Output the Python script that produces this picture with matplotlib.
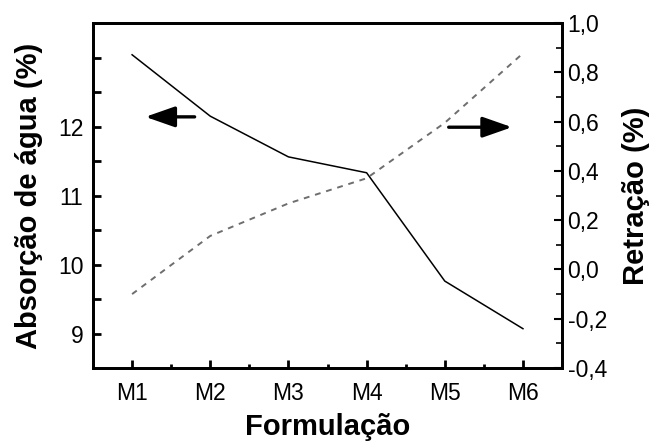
import matplotlib
matplotlib.use("Agg")
import matplotlib.pyplot as plt
from matplotlib.ticker import MultipleLocator, FixedLocator, FuncFormatter

plt.rcParams['font.family'] = ['Liberation Sans', 'DejaVu Sans']

formulacoes = ["M1", "M2", "M3", "M4", "M5", "M6"]
absorcao = [13.04, 12.15, 11.56, 11.33, 9.76, 9.07]
retracao = [-0.10, 0.136, 0.268, 0.37, 0.595, 0.877]

fig = plt.figure(figsize=(6.49, 4.41), dpi=100)
ax = fig.add_axes([0.1433, 0.1655, 0.866 - 0.1433, 0.9478 - 0.1655])
ax2 = ax.twinx()

x = list(range(len(formulacoes)))
ax.plot(x, absorcao, color="black", lw=1.1)
ax2.plot(x, retracao, color="#6e6e6e", lw=1.4, dashes=(3, 3))

ax.set_xlim(-0.5, 5.5)
ax.set_ylim(8.5, 13.5)
ax2.set_ylim(-0.4, 1.0)

ax.set_xticks(x)
ax.set_xticklabels(formulacoes)
ax.xaxis.set_minor_locator(FixedLocator([i + 0.5 for i in x[:-1]]))

ax.yaxis.set_major_locator(FixedLocator([9, 10, 11, 12, 9.5, 10.5, 11.5, 12.5, 13]))
ax.yaxis.set_major_formatter(FuncFormatter(lambda v, p: "%d" % v if v == int(v) and v <= 12 else ""))

ax2.yaxis.set_major_locator(MultipleLocator(0.2))
ax2.yaxis.set_minor_locator(MultipleLocator(0.1))
ax2.yaxis.set_major_formatter(FuncFormatter(lambda v, p: ("%.1f" % v).replace(".", ",").replace("-0,0", "0,0")))

for a in (ax, ax2):
    for s in a.spines.values():
        s.set_linewidth(2.0)

ax.tick_params(axis="both", which="major", direction="in", length=6, width=2, labelsize=16.5)
ax.tick_params(axis="x", which="minor", direction="in", length=3, width=2)
ax.tick_params(axis="y", pad=7)
ax.tick_params(axis="x", pad=10)
ax2.tick_params(axis="y", which="major", direction="in", length=6, width=1.5, labelsize=16.5, pad=4)
ax2.tick_params(axis="y", which="minor", direction="in", length=4, width=1.2)

ax.set_xlabel("Formulação", fontsize=21, fontweight="bold", labelpad=6)
ax.set_ylabel("Absorção de água (%)", fontsize=21, fontweight="bold", labelpad=11)
ax2.set_ylabel("Retração (%)", fontsize=21, fontweight="bold", labelpad=11)

arrow = dict(arrowstyle="-|>,head_length=1.0,head_width=0.35", lw=2.4, color="black",
             shrinkA=0, shrinkB=0, mutation_scale=18)
ax.annotate("", xy=(0.17, 12.14), xytext=(0.80, 12.14), arrowprops=arrow)
ax.annotate("", xy=(4.86, 11.99), xytext=(4.05, 11.99), arrowprops=arrow)

fig.savefig("out.png", dpi=100)
